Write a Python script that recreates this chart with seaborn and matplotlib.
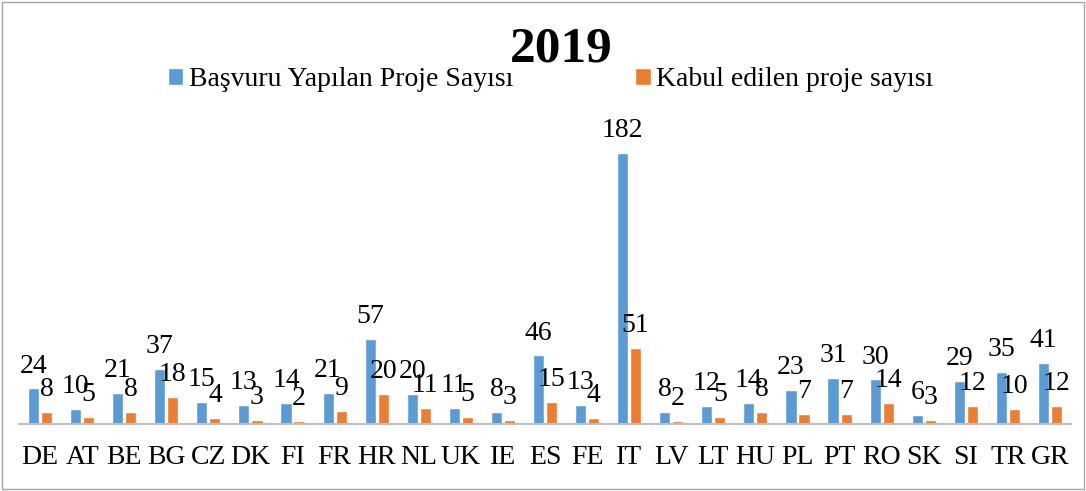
import matplotlib
matplotlib.use("Agg")
import matplotlib.pyplot as plt
import matplotlib.patches as patches
import seaborn as sns
import pandas as pd

countries = ["DE", "AT", "BE", "BG", "CZ", "DK", "FI", "FR", "HR", "NL", "UK", "IE", "ES",
             "FE", "IT", "LV", "LT", "HU", "PL", "PT", "RO", "SK", "SI", "TR", "GR"]
basvuru = [24, 10, 21, 37, 15, 13, 14, 21, 57, 20, 11, 8, 46, 13, 182, 8, 12, 14, 23, 31, 30, 6, 29, 35, 41]
kabul = [8, 5, 8, 18, 4, 3, 2, 9, 20, 11, 5, 3, 15, 4, 51, 2, 5, 8, 7, 7, 14, 3, 12, 10, 12]
series_names = ["Başvuru Yapılan Proje Sayısı", "Kabul edilen proje sayısı"]
title = "2019"

df = pd.DataFrame({
    "Ülke": countries * 2,
    "Seri": [series_names[0]] * len(countries) + [series_names[1]] * len(countries),
    "Değer": basvuru + kabul,
})

sns.set_style("white")
plt.rcParams["font.family"] = ["Liberation Serif", "DejaVu Serif"]
plt.rcParams["text.color"] = "black"
plt.rcParams["xtick.color"] = "black"

W, H = 1086, 491
fig = plt.figure(figsize=(W / 100, H / 100), dpi=100)
ymax = 200
base_px, top_px = 424, 424 - ymax * 1.49
ax = fig.add_axes([19 / W, 1 - base_px / H, (1071 - 19) / W, (base_px - top_px) / H])

sns.barplot(data=df, x="Ülke", y="Değer", hue="Seri", palette=["#5B9BD5", "#ED7D31"],
            saturation=1, width=0.62, gap=0.15, ax=ax, legend=True)

for cont in ax.containers:
    ax.bar_label(cont, padding=7, fontsize=20, color="black")

ax.set_ylim(0, ymax)
ax.set_xlim(-0.5, len(countries) - 0.5)
ax.set_xlabel("")
ax.set_ylabel("")
ax.set_yticks([])
for s in ["left", "right", "top"]:
    ax.spines[s].set_visible(False)
ax.spines["bottom"].set_color("#bfbfbf")
ax.spines["bottom"].set_linewidth(1.5)
ax.tick_params(axis="x", length=0, pad=15, labelsize=20, labelcolor="black")

ax.legend(loc="center", bbox_to_anchor=(0.507, (H - 80) / H), bbox_transform=fig.transFigure,
          ncol=2, frameon=False, fontsize=20, handlelength=0.55, handleheight=0.55,
          handletextpad=0.2, columnspacing=4.4)

fig.text(0.517, (H - 50) / H, title, ha="center", va="center", fontsize=37, fontweight="bold",
         color="black")

fig.patches.append(patches.Rectangle((2 / W, 2 / H), 1 - 4 / W, 1 - 4 / H, transform=fig.transFigure,
                                     fill=False, edgecolor="#a6a6a6", linewidth=1))

fig.savefig("out.png", dpi=100)
